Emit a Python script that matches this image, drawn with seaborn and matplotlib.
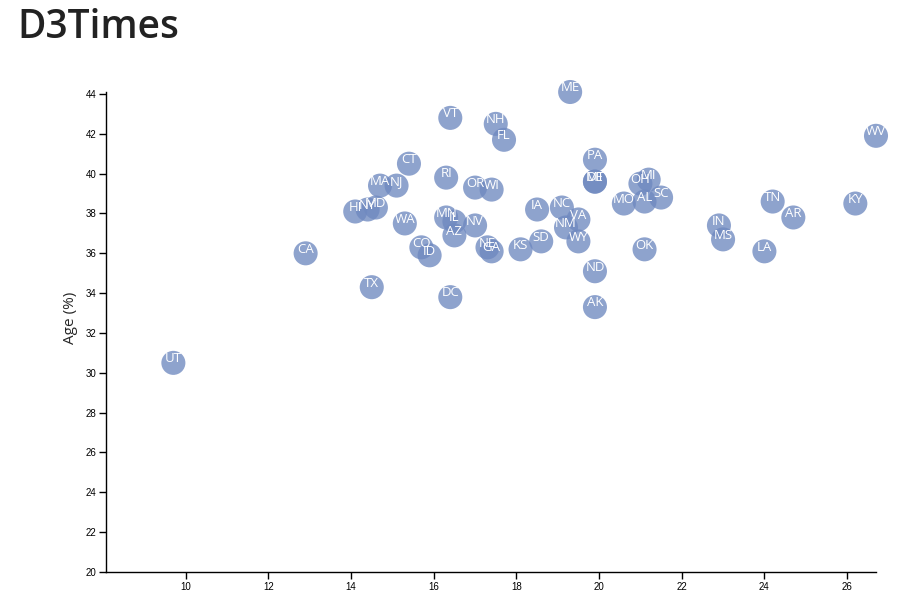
import pandas as pd
import matplotlib
matplotlib.use("Agg")
import matplotlib.pyplot as plt
import seaborn as sns

sns.set_style("white")
plt.rcParams["font.family"] = ["Liberation Sans", "DejaVu Sans"]

# ---------------------------------------------------------------------------
# Data
# ---------------------------------------------------------------------------
states = ["UT", "CA", "TX", "HI", "NY", "MD", "MA", "NJ", "CT", "RI",
          "OR", "WI", "WA", "MN", "IL", "AZ", "NV", "CO", "ID", "NE",
          "GA", "KS", "SD", "IA", "NC", "VA", "NM", "WY", "PA", "DE",
          "MT", "ND", "AK", "DC", "MO", "OH", "MI", "AL", "SC", "OK",
          "IN", "MS", "TN", "AR", "LA", "KY", "WV", "FL", "NH", "VT", "ME"]
smokes = [9.7, 12.9, 14.5, 14.1, 14.4, 14.6, 14.7, 15.1, 15.4, 16.3,
          17.0, 17.4, 15.3, 16.3, 16.5, 16.5, 17.0, 15.7, 15.9, 17.3,
          17.4, 18.1, 18.6, 18.5, 19.1, 19.5, 19.2, 19.5, 19.9, 19.9,
          19.9, 19.9, 19.9, 16.4, 20.6, 21.0, 21.2, 21.1, 21.5, 21.1,
          22.9, 23.0, 24.2, 24.7, 24.0, 26.2, 26.7, 17.7, 17.5, 16.4, 19.3]
age = [30.5, 36.0, 34.3, 38.1, 38.2, 38.3, 39.4, 39.4, 40.5, 39.8,
       39.3, 39.2, 37.5, 37.8, 37.6, 36.9, 37.4, 36.3, 35.9, 36.3,
       36.1, 36.2, 36.6, 38.2, 38.3, 37.7, 37.3, 36.6, 40.7, 39.6,
       39.6, 35.1, 33.3, 33.8, 38.5, 39.5, 39.7, 38.6, 38.8, 36.2,
       37.4, 36.7, 38.6, 37.8, 36.1, 38.5, 41.9, 41.7, 42.5, 42.8, 44.1]

y_ticks = [20, 22, 24, 26, 28, 30, 32, 34, 36, 38, 40, 42, 44]
x_ticks = [10, 12, 14, 16, 18, 20, 22, 24, 26]

df = pd.DataFrame({"abbr": states, "smokes": smokes, "age": age})

# ---------------------------------------------------------------------------
# Figure
# ---------------------------------------------------------------------------
fig = plt.figure(figsize=(9.13, 6.12), dpi=100)
ax = fig.add_axes([106 / 913, 1 - 572 / 612, (876 - 106) / 913, (572 - 92) / 612])

sns.scatterplot(
    data=df, x="smokes", y="age", ax=ax,
    s=300, color="#6f89c0", alpha=0.78, edgecolor="none", linewidth=0,
    clip_on=False, zorder=3,
)

for _, row in df.iterrows():
    ax.annotate(row["abbr"], (row["smokes"], row["age"]),
                xytext=(0, 3), textcoords="offset points",
                ha="center", va="center", color="white", fontsize=9.5,
                family=["Open Sans", "DejaVu Sans"],
                annotation_clip=False, zorder=4)

ax.set_xlim(8.07, 26.7)
ax.set_ylim(20, 44.1)
ax.set_xticks(x_ticks)
ax.set_yticks(y_ticks)
ax.tick_params(axis="both", direction="out", length=5, width=1,
               labelsize=7, colors="black", left=True, bottom=True, pad=2)

for side in ["top", "right"]:
    ax.spines[side].set_visible(False)
for side in ["left", "bottom"]:
    ax.spines[side].set_color("black")
    ax.spines[side].set_linewidth(1)

ax.set_xlabel("")
ax.set_ylabel("Age (%)", fontsize=11, family=["Open Sans", "DejaVu Sans"])
ax.yaxis.set_label_coords(-0.037, 0.53)

fig.text(17 / 913, 1 - 38 / 612, "D3Times", fontsize=28, fontweight="semibold",
         color="#222222", family=["Open Sans", "DejaVu Sans"])

fig.savefig("out.png", dpi=100)
plt.close(fig)
